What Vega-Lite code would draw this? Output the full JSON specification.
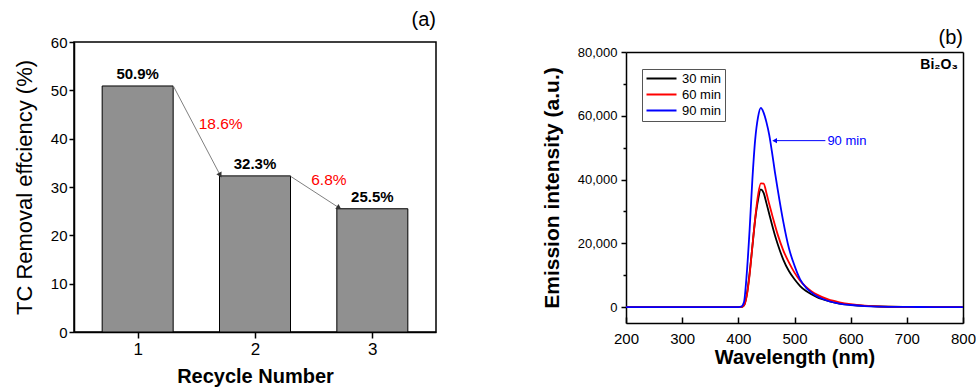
{
  "$schema": "https://vega.github.io/schema/vega-lite/v6.json",
  "padding": {"left": 12, "top": 9, "right": 5, "bottom": 5},
  "background": "white",
  "config": {
    "font": "Liberation Sans",
    "view": {"stroke": "black", "strokeWidth": 1.5},
    "axis": {"domainColor": "black", "domainWidth": 1.5, "tickColor": "black", "tickWidth": 1.5, "labelColor": "black", "titleColor": "black", "grid": false, "labelFont": "Liberation Sans", "titleFont": "Liberation Sans", "labelFlush": false},
    "title": {"font": "Liberation Sans", "color": "black"}
  },
  "datasets": {
    "bars": [
      {"cycle": 1, "eff": 50.9, "label": "50.9%"},
      {"cycle": 2, "eff": 32.3, "label": "32.3%"},
      {"cycle": 3, "eff": 25.5, "label": "25.5%"}
    ],
    "arrows": [
      {"id": "a", "x": 1.304, "y": 50.9, "x2": 1.70, "y2": 32.6},
      {"id": "b", "x": 2.304, "y": 32.2, "x2": 2.71, "y2": 25.8}
    ],
    "drops": [
      {"x": 1.707, "y": 43.0, "text": "18.6%"},
      {"x": 2.63, "y": 31.45, "text": "6.8%"}
    ],
    "callout": [{"x": 555, "x2": 466, "y": 52200, "text": "90 min"}],
    "sample": [{"x": 791, "y": 75900, "text": "Bi₂O₃"}],
    "spectra": [
      {"s": "30 min", "w": 200, "i": 0}, {"s": "30 min", "w": 300, "i": 0}, {"s": "30 min", "w": 400, "i": 0}, {"s": "30 min", "w": 405, "i": 0},
      {"s": "30 min", "w": 410, "i": 500}, {"s": "30 min", "w": 415, "i": 3800}, {"s": "30 min", "w": 420, "i": 10500}, {"s": "30 min", "w": 425, "i": 19000},
      {"s": "30 min", "w": 430, "i": 27500}, {"s": "30 min", "w": 435, "i": 33500}, {"s": "30 min", "w": 440, "i": 36900}, {"s": "30 min", "w": 445, "i": 35800},
      {"s": "30 min", "w": 450, "i": 32600}, {"s": "30 min", "w": 455, "i": 29200}, {"s": "30 min", "w": 460, "i": 25800}, {"s": "30 min", "w": 465, "i": 22600},
      {"s": "30 min", "w": 470, "i": 19800}, {"s": "30 min", "w": 480, "i": 14900}, {"s": "30 min", "w": 490, "i": 11300}, {"s": "30 min", "w": 500, "i": 8700},
      {"s": "30 min", "w": 510, "i": 6600}, {"s": "30 min", "w": 520, "i": 5100}, {"s": "30 min", "w": 530, "i": 4000}, {"s": "30 min", "w": 540, "i": 3100},
      {"s": "30 min", "w": 560, "i": 1900}, {"s": "30 min", "w": 580, "i": 1100}, {"s": "30 min", "w": 600, "i": 700}, {"s": "30 min", "w": 625, "i": 350},
      {"s": "30 min", "w": 650, "i": 170}, {"s": "30 min", "w": 700, "i": 40}, {"s": "30 min", "w": 750, "i": 0}, {"s": "30 min", "w": 800, "i": 0},
      {"s": "60 min", "w": 200, "i": 0}, {"s": "60 min", "w": 300, "i": 0}, {"s": "60 min", "w": 400, "i": 0}, {"s": "60 min", "w": 405, "i": 0},
      {"s": "60 min", "w": 410, "i": 500}, {"s": "60 min", "w": 415, "i": 3500}, {"s": "60 min", "w": 420, "i": 10000}, {"s": "60 min", "w": 425, "i": 19000},
      {"s": "60 min", "w": 430, "i": 27800}, {"s": "60 min", "w": 435, "i": 35000}, {"s": "60 min", "w": 440, "i": 38800}, {"s": "60 min", "w": 445, "i": 38700},
      {"s": "60 min", "w": 450, "i": 35800}, {"s": "60 min", "w": 455, "i": 32300}, {"s": "60 min", "w": 460, "i": 29000}, {"s": "60 min", "w": 465, "i": 25800},
      {"s": "60 min", "w": 470, "i": 22800}, {"s": "60 min", "w": 480, "i": 17800}, {"s": "60 min", "w": 490, "i": 14000}, {"s": "60 min", "w": 500, "i": 10800},
      {"s": "60 min", "w": 510, "i": 8300}, {"s": "60 min", "w": 520, "i": 6400}, {"s": "60 min", "w": 530, "i": 5000}, {"s": "60 min", "w": 540, "i": 3900},
      {"s": "60 min", "w": 560, "i": 2400}, {"s": "60 min", "w": 580, "i": 1500}, {"s": "60 min", "w": 600, "i": 900}, {"s": "60 min", "w": 625, "i": 450},
      {"s": "60 min", "w": 650, "i": 200}, {"s": "60 min", "w": 700, "i": 50}, {"s": "60 min", "w": 750, "i": 0}, {"s": "60 min", "w": 800, "i": 0},
      {"s": "90 min", "w": 200, "i": 0}, {"s": "90 min", "w": 300, "i": 0}, {"s": "90 min", "w": 400, "i": 0}, {"s": "90 min", "w": 405, "i": 100},
      {"s": "90 min", "w": 410, "i": 1500}, {"s": "90 min", "w": 415, "i": 10500}, {"s": "90 min", "w": 420, "i": 24000}, {"s": "90 min", "w": 425, "i": 40000},
      {"s": "90 min", "w": 430, "i": 52500}, {"s": "90 min", "w": 435, "i": 59500}, {"s": "90 min", "w": 440, "i": 62500}, {"s": "90 min", "w": 445, "i": 61000},
      {"s": "90 min", "w": 450, "i": 58000}, {"s": "90 min", "w": 455, "i": 54000}, {"s": "90 min", "w": 460, "i": 48500}, {"s": "90 min", "w": 465, "i": 42500},
      {"s": "90 min", "w": 470, "i": 37000}, {"s": "90 min", "w": 480, "i": 26800}, {"s": "90 min", "w": 490, "i": 18500}, {"s": "90 min", "w": 500, "i": 13000},
      {"s": "90 min", "w": 510, "i": 8700}, {"s": "90 min", "w": 520, "i": 6200}, {"s": "90 min", "w": 530, "i": 4600}, {"s": "90 min", "w": 540, "i": 3400},
      {"s": "90 min", "w": 560, "i": 1900}, {"s": "90 min", "w": 580, "i": 1100}, {"s": "90 min", "w": 600, "i": 650}, {"s": "90 min", "w": 625, "i": 300},
      {"s": "90 min", "w": 650, "i": 150}, {"s": "90 min", "w": 700, "i": 40}, {"s": "90 min", "w": 750, "i": 0}, {"s": "90 min", "w": 800, "i": 0}
    ]
  },
  "spacing": 104,
  "resolve": {"legend": {"color": "independent"}},
  "hconcat": [
    {
      "width": 362,
      "height": 290,
      "title": {"text": "(a)", "anchor": "end", "frame": "group", "fontSize": 20, "fontWeight": "normal", "offset": 5},
      "layer": [
        {
          "data": {"name": "bars"},
          "mark": {"type": "bar", "orient": "vertical", "size": 71, "fill": "#909090", "stroke": "black", "strokeWidth": 1},
          "encoding": {
            "x": {"field": "cycle", "type": "quantitative", "scale": {"domain": [0.5, 3.5], "nice": false, "zero": false},
              "axis": {"values": [1, 2, 3], "format": "d", "title": "Recycle Number", "titleFontSize": 20, "titleFontWeight": "bold", "labelFontSize": 17, "tickSize": 6, "labelPadding": 3, "titlePadding": 9}},
            "y": {"field": "eff", "type": "quantitative", "scale": {"domain": [0, 60], "nice": false},
              "axis": {"values": [0, 10, 20, 30, 40, 50, 60], "title": "TC Removal effciency (%)", "titleFontSize": 22, "titleFontWeight": "normal", "labelFontSize": 15, "tickSize": 5, "labelPadding": 2, "titlePadding": 14}}
          }
        },
        {
          "data": {"name": "bars"},
          "mark": {"type": "text", "fontSize": 15, "fontWeight": "bold", "baseline": "bottom", "dy": -4, "color": "black"},
          "encoding": {
            "x": {"field": "cycle", "type": "quantitative"},
            "y": {"field": "eff", "type": "quantitative"},
            "text": {"field": "label"}
          }
        },
        {
          "data": {"name": "arrows"},
          "mark": {"type": "rule", "color": "#808080", "strokeWidth": 1},
          "encoding": {
            "x": {"field": "x", "type": "quantitative"},
            "y": {"field": "y", "type": "quantitative"},
            "x2": {"field": "x2"},
            "y2": {"field": "y2"}
          }
        },
        {
          "data": {"name": "arrows"},
          "transform": [{"filter": "datum.id === 'a'"}],
          "mark": {"type": "point", "shape": "triangle", "filled": true, "size": 35, "color": "#333333", "opacity": 1, "angle": 151},
          "encoding": {
            "x": {"field": "x2", "type": "quantitative"},
            "y": {"field": "y2", "type": "quantitative"}
          }
        },
        {
          "data": {"name": "arrows"},
          "transform": [{"filter": "datum.id === 'b'"}],
          "mark": {"type": "point", "shape": "triangle", "filled": true, "size": 35, "color": "#333333", "opacity": 1, "angle": 122},
          "encoding": {
            "x": {"field": "x2", "type": "quantitative"},
            "y": {"field": "y2", "type": "quantitative"}
          }
        },
        {
          "data": {"name": "drops"},
          "mark": {"type": "text", "fontSize": 15.5, "color": "#ff0000", "baseline": "middle", "align": "center"},
          "encoding": {
            "x": {"field": "x", "type": "quantitative"},
            "y": {"field": "y", "type": "quantitative"},
            "text": {"field": "text"}
          }
        }
      ]
    },
    {
      "width": 337,
      "height": 281,
      "title": {"text": "(b)", "anchor": "end", "frame": "group", "fontSize": 20, "fontWeight": "normal", "offset": -6},
      "view": {"stroke": null},
      "layer": [
        {
          "data": {"name": "spectra"},
          "mark": {"type": "line", "strokeWidth": 1.8, "interpolate": "monotone"},
          "encoding": {
            "x": {"field": "w", "type": "quantitative", "scale": {"domain": [200, 800], "nice": false, "zero": false},
              "axis": {"values": [200, 300, 400, 500, 600, 700, 800], "title": "Wavelength (nm)", "titleFontSize": 20, "titleFontWeight": "bold", "labelFontSize": 15, "tickSize": -6, "labelPadding": 14, "titlePadding": 1}},
            "y": {"field": "i", "type": "quantitative", "scale": {"domain": [-5000, 80000], "nice": false, "zero": false, "range": [281, 10]},
              "axis": {"values": [0, 20000, 40000, 60000, 80000], "labelExpr": "format(datum.value, ',')", "title": "Emission intensity (a.u.)", "titleFontSize": 21, "titleFontWeight": "bold", "labelFontSize": 13, "tickSize": 5, "labelPadding": 4, "titlePadding": 15}},
            "color": {"field": "s", "type": "nominal",
              "scale": {"domain": ["30 min", "60 min", "90 min"], "range": ["#000000", "#ff0000", "#0000ff"]},
              "legend": {"orient": "none", "legendX": 16, "legendY": 27, "title": null, "symbolType": "M-1,0H5", "symbolSize": 100, "symbolStrokeWidth": 2, "labelFontSize": 13, "labelColor": "black", "strokeColor": "#555555", "padding": 3, "rowPadding": 2, "labelOffset": 24}}
          }
        },
        {
          "data": {"name": "callout"},
          "mark": {"type": "rule", "color": "#0000ff", "strokeWidth": 1},
          "encoding": {
            "x": {"field": "x", "type": "quantitative", "axis": null},
            "x2": {"field": "x2"},
            "y": {"field": "y", "type": "quantitative", "axis": {"orient": "left", "values": [10000, 30000, 50000, 70000], "labels": false, "domain": false, "tickSize": 3, "title": null}}
          }
        },
        {
          "data": {"name": "callout"},
          "mark": {"type": "point", "shape": "triangle", "filled": true, "size": 30, "color": "#0000ff", "opacity": 1, "angle": 270},
          "encoding": {
            "x": {"field": "x2", "type": "quantitative", "axis": null},
            "y": {"field": "y", "type": "quantitative", "axis": null}
          }
        },
        {
          "data": {"name": "callout"},
          "mark": {"type": "text", "fontSize": 13, "color": "#0000ff", "align": "left", "baseline": "middle", "dx": 2},
          "encoding": {
            "x": {"field": "x", "type": "quantitative", "axis": {"orient": "top", "labels": false, "ticks": false, "title": null, "offset": -10}},
            "y": {"field": "y", "type": "quantitative", "axis": {"orient": "right", "labels": false, "ticks": false, "title": null}},
            "text": {"field": "text"}
          }
        },
        {
          "data": {"name": "sample"},
          "mark": {"type": "text", "fontSize": 14, "fontWeight": "bold", "color": "black", "align": "right", "baseline": "middle"},
          "encoding": {
            "x": {"field": "x", "type": "quantitative", "axis": null},
            "y": {"field": "y", "type": "quantitative", "axis": null},
            "text": {"field": "text"}
          }
        }
      ],
      "resolve": {"axis": {"x": "independent", "y": "independent"}}
    }
  ]
}
